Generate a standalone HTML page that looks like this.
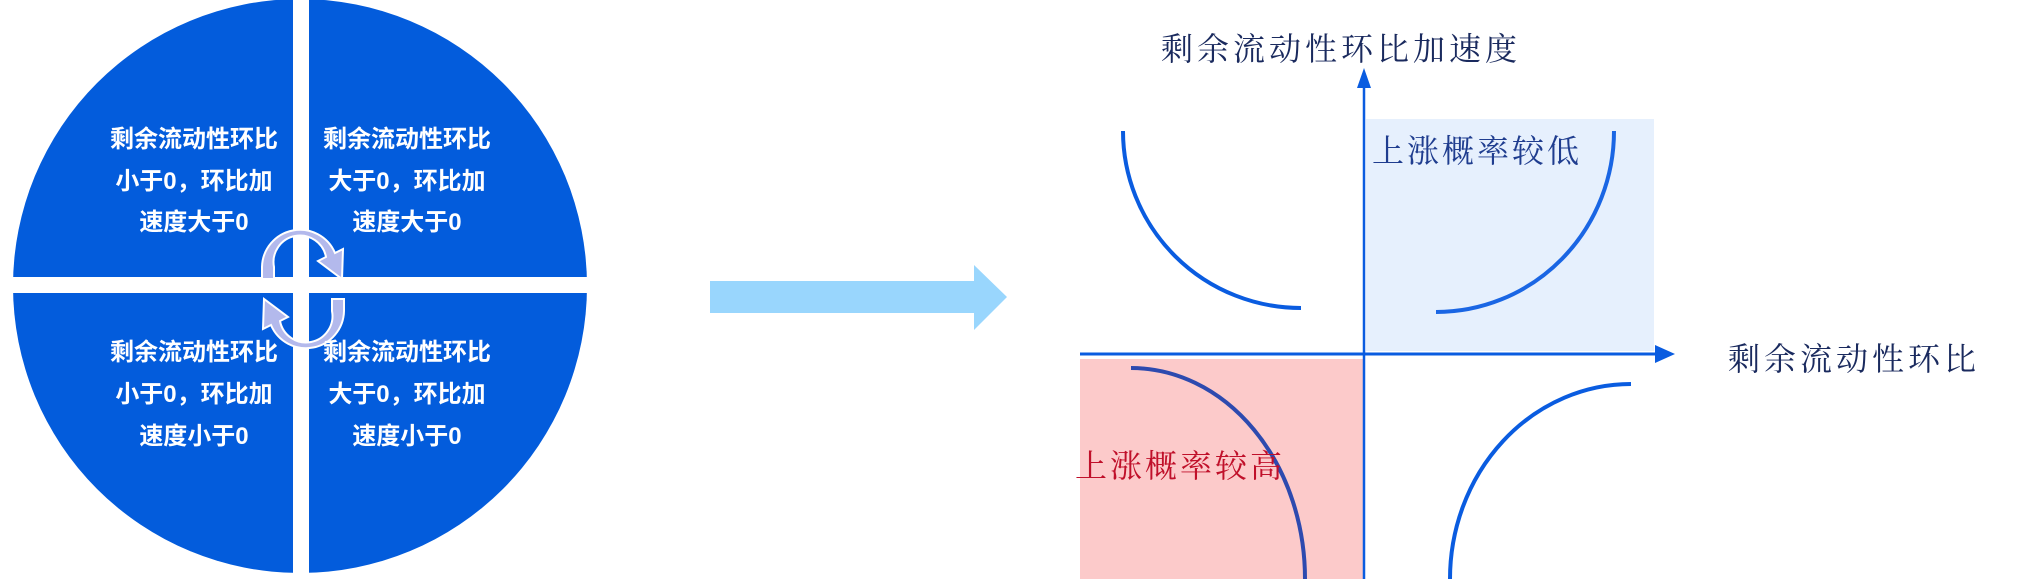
<!DOCTYPE html>
<html><head><meta charset="utf-8"><style>
html,body{margin:0;padding:0;background:#fff;}
body{width:2037px;height:579px;overflow:hidden;position:relative;}
.t{position:absolute;white-space:nowrap;}
.w{color:#fff;font-family:"Liberation Sans","Noto Sans CJK SC",sans-serif;font-weight:bold;font-size:24px;line-height:24px;text-align:center;width:200px;}
.s{font-family:"Liberation Serif","Noto Serif CJK SC",serif;}
</style></head><body>
<svg width="2037" height="579" style="position:absolute;left:0;top:0">
<ellipse cx="300" cy="286" rx="287" ry="287" fill="#035cdc"/>
<rect x="293" y="0" width="16" height="579" fill="#fff"/>
<rect x="0" y="277" width="620" height="16" fill="#fff"/>
<path d="M262 279 L262 267 A38 38 0 0 1 335 253 L343 249 L342 279 L318 261 L326 257 A26 26 0 0 0 274 267 L274 279 Z" fill="#b3b9ec" stroke="#fff" stroke-width="2"/>
<path d="M344 299 L344 311 A38 38 0 0 1 271 325 L263 329 L264 299 L288 317 L280 321 A26 26 0 0 0 332 311 L332 299 Z" fill="#b3b9ec" stroke="#fff" stroke-width="2"/>
<polygon points="710,281 974,281 974,265 1007,297 974,330 974,313 710,313" fill="#99d6fd"/>
<rect x="1366" y="119" width="288" height="232" fill="#e6f0fd"/>
<rect x="1080" y="359" width="284" height="220" fill="#fccaca"/>
<line x1="1364" y1="84" x2="1364" y2="579" stroke="#0a5ce0" stroke-width="2.5"/>
<polygon points="1357,88 1364,68 1371,88" fill="#0a5ce0"/>
<line x1="1080" y1="354" x2="1659" y2="354" stroke="#0a5ce0" stroke-width="3"/>
<polygon points="1655,345 1675,354 1655,363" fill="#0a5ce0"/>
<g fill="none" stroke-width="4">
<path d="M1123 131 A178 177 0 0 0 1301 308" stroke="#0a5ce0"/>
<path d="M1614 131 A178 181 0 0 1 1436 312" stroke="#1a66e4"/>
<path d="M1631 384 A181 195 0 0 0 1450 579" stroke="#0a5ce0"/>
<path d="M1131 368 A174 211 0 0 1 1305 579" stroke="#2d4aaf"/>
</g>
</svg>
<div class="t w" style="left:94px;top:128px">剩余流动性环比</div>
<div class="t w" style="left:94px;top:170px">小于0，环比加</div>
<div class="t w" style="left:94px;top:211px">速度大于0</div>
<div class="t w" style="left:307px;top:128px">剩余流动性环比</div>
<div class="t w" style="left:307px;top:170px">大于0，环比加</div>
<div class="t w" style="left:307px;top:211px">速度大于0</div>
<div class="t w" style="left:94px;top:341px">剩余流动性环比</div>
<div class="t w" style="left:94px;top:383px">小于0，环比加</div>
<div class="t w" style="left:94px;top:425px">速度小于0</div>
<div class="t w" style="left:307px;top:341px">剩余流动性环比</div>
<div class="t w" style="left:307px;top:383px">大于0，环比加</div>
<div class="t w" style="left:307px;top:425px">速度小于0</div>
<div class="t s" style="left:1161px;top:31px;font-size:32px;line-height:36px;letter-spacing:4px;color:#1a2a5e">剩余流动性环比加速度</div>
<div class="t s" style="left:1728px;top:341px;font-size:32px;line-height:36px;letter-spacing:4px;color:#1a2a5e">剩余流动性环比</div>
<div class="t s" style="left:1372px;top:133px;font-size:32px;line-height:36px;letter-spacing:3px;color:#1f3d8f">上涨概率较低</div>
<div class="t s" style="left:1075px;top:448px;font-size:32px;line-height:36px;letter-spacing:3px;color:#c0102a">上涨概率较高</div>
</body></html>
